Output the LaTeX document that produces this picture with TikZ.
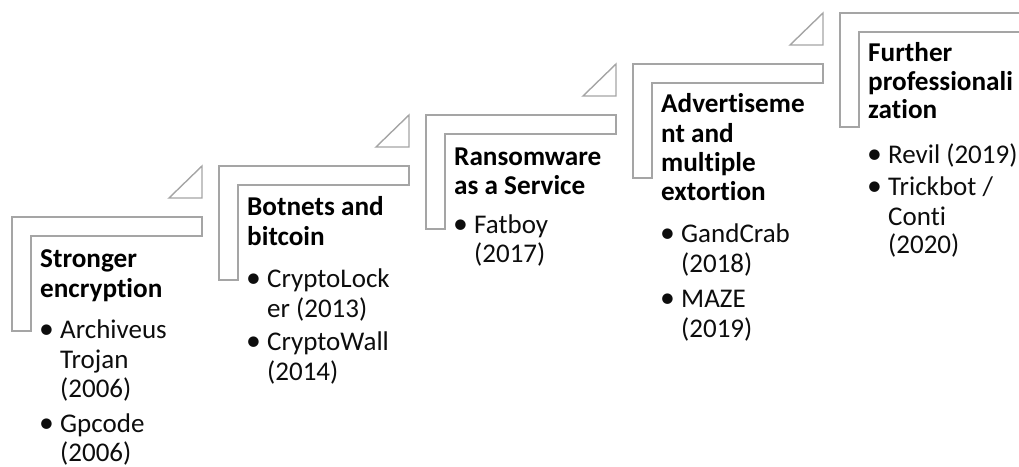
\documentclass[tikz,border=0pt]{standalone}
\usepackage{fontspec}
\setmainfont{Carlito}[Ligatures={NoCommon,NoContextual}]
\definecolor{lin}{HTML}{A5A5A5}
\definecolor{txt}{HTML}{0D0D0D}
\tikzset{
  stepL/.style={draw=lin, line width=1.4pt, line join=miter},
  tri/.style={draw=lin, line width=1.4pt, line join=miter},
  head/.style={anchor=base west, inner sep=0pt, text=black, font=\fontsize{27.2}{30}\selectfont\bfseries},
  body/.style={anchor=base west, inner sep=0pt, text=txt, font=\fontsize{27}{30}\selectfont},
}
\newcommand{\bl}[1]{\makebox[20pt][l]{\hspace{-1pt}\raisebox{-0.2pt}{\scalebox{1.1}{\textbullet}}}#1}
\begin{document}
\begin{tikzpicture}[x=1pt,y=-1pt]
\useasboundingbox (0,0) rectangle (1019,466);
\clip (0,0) rectangle (1019,466);
\foreach \k in {0,...,4} {
  \pgfmathsetmacro\X{12+207*\k}
  \pgfmathsetmacro\T{217-51*\k}
  \draw[stepL] (\X,\T) -- ++(190,0) -- ++(0,19) -- ++(-171,0) -- ++(0,95) -- ++(-19,0) -- cycle;
}
\foreach \k in {0,...,3} {
  \pgfmathsetmacro\R{202+207*\k}
  \pgfmathsetmacro\T{217-51*\k}
  \draw[tri] (\R,\T-51) -- (\R,\T-19) -- (\R-33,\T-19) -- cycle;
}
% Step 1
\node[head] (h1a) at (40,267) {Stronger};
\node[head] (h1b) at (40,297) {encryption};
\node[body] (b1a) at (40,338) {\bl{Archiveus}};
\node[body] (b1b) at (60,368) {Trojan};
\node[body] (b1c) at (60,397) {(2006)};
\node[body] (b1d) at (40,432) {\bl{Gpcode}};
\node[body] (b1e) at (60,461) {(2006)};
% Step 2
\node[head] (h2a) at (247,215) {Botnets and};
\node[head] (h2b) at (247,245) {bitcoin};
\node[body] (b2a) at (247,287) {\bl{CryptoLock}};
\node[body] (b2b) at (267,317) {er (2013)};
\node[body] (b2c) at (247,350) {\bl{CryptoWall}};
\node[body] (b2d) at (267,380) {(2014)};
% Step 3
\node[head] (h3a) at (454,165) {Ransomware};
\node[head] (h3b) at (454,194) {as a Service};
\node[body] (b3a) at (454,233) {\bl{Fatboy}};
\node[body] (b3b) at (474,262) {(2017)};
% Step 4
\node[head] (h4a) at (661,112) {Advertiseme};
\node[head] (h4b) at (661,142) {nt and};
\node[head] (h4c) at (661,171) {multiple};
\node[head] (h4d) at (661,200) {extortion};
\node[body] (b4a) at (661,242) {\bl{GandCrab}};
\node[body] (b4b) at (681,272) {(2018)};
\node[body] (b4c) at (661,307) {\bl{MAZE}};
\node[body] (b4d) at (681,337) {(2019)};
% Step 5
\node[head] (h5a) at (868,61) {Further};
\node[head] (h5b) at (868,90) {professionali};
\node[head] (h5c) at (868,118) {zation};
\node[body] (b5a) at (868,163) {\bl{Revil (2019)}};
\node[body] (b5b) at (868,195) {\bl{Trickbot /}};
\node[body] (b5c) at (888,225) {Conti};
\node[body] (b5d) at (888,253) {(2020)};
\end{tikzpicture}
\end{document}
